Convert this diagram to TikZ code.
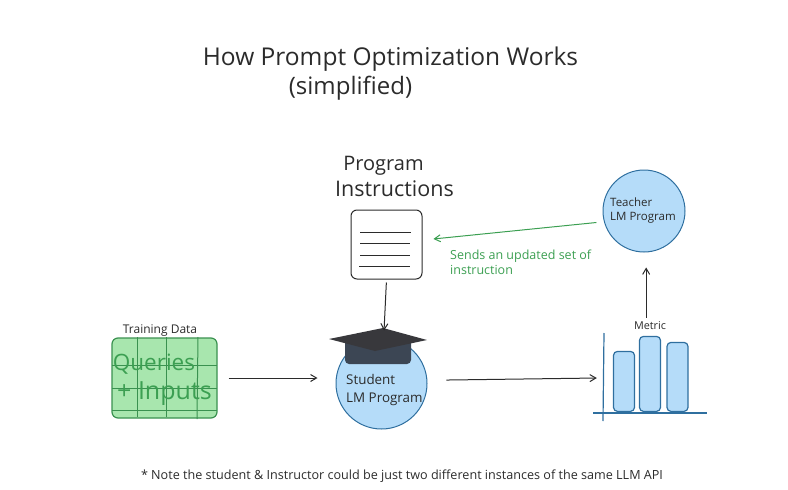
\documentclass[tikz,border=0pt]{standalone}
\usepackage{fontspec}
\usepackage{xcolor}
\usetikzlibrary{positioning,shapes,arrows.meta}
\setmainfont{Open Sans}
\definecolor{inkblack}{HTML}{2B2B2B}
\definecolor{inkgreen}{HTML}{3C9F52}
\definecolor{tablefill}{HTML}{A8E6AE}
\definecolor{gridgreen}{HTML}{3A9150}
\definecolor{skyfill}{HTML}{B5DCF9}
\definecolor{skyline}{HTML}{2F6F9F}
\definecolor{hatdark}{HTML}{38383C}
\definecolor{hatbase}{HTML}{3C4654}
\begin{document}
\begin{tikzpicture}[x=1pt,y=1pt]
\tikzstyle{every node}+=[inner sep=0pt]
\tikzstyle{arrowline}=[inkblack,line width=1pt,-{Straight Barb[length=6pt,width=7pt]}]
\tikzstyle{greenline}=[inkgreen,line width=1pt,-{Straight Barb[length=6pt,width=7pt]}]
\tikzstyle{hand}=[text=inkblack,align=left]
\tikzstyle{roundcircle}=[circle,draw=skyline,fill=skyfill,line width=1pt]
\tikzstyle{barbox}=[rectangle,rounded corners=4pt,draw=skyline,fill=skyfill,line width=1.2pt,anchor=south,minimum width=21pt]
\useasboundingbox (0,0) rectangle (788,-490);
\node [hand,font=\fontsize{24.5}{28}\selectfont] (title) at (390.5,-59) {How Prompt Optimization Works};
\node [hand,font=\fontsize{24}{28}\selectfont] (subtitle) at (350.5,-88) {(simplified)};
\node [hand,font=\fontsize{20}{23}\selectfont] (program) at (383.5,-166) {Program};
\node [hand,font=\fontsize{21.5}{24}\selectfont] (instructions) at (394.5,-189) {Instructions};
\node [rectangle,rounded corners=6pt,draw=inkblack,line width=1pt,minimum width=71pt,minimum height=69pt] (doc) at (386.5,-244.5) {};
\draw [inkblack,line width=1pt] (360,-232) -- (411,-232);
\draw [inkblack,line width=1pt] (360,-243) -- (410,-243);
\draw [inkblack,line width=1pt] (360,-255) -- (410,-255);
\draw [inkblack,line width=1pt] (359,-266) -- (410,-266);
\node [roundcircle,minimum size=82pt] (teacher) at (644,-211) {};
\node [hand,anchor=west,font=\fontsize{11.5}{14}\selectfont] (teachertext) at (610,-210.5) {Teacher\\LM Program};
\node [hand,text=inkgreen,anchor=north west,font=\fontsize{12.5}{14.5}\selectfont] (sends) at (450,-250) {Sends an updated set of\\instruction};
\node [hand,font=\fontsize{10.8}{12}\selectfont] (metric) at (650,-326) {Metric};
\node [minimum width=109pt,minimum height=86pt] (chart) at (652.5,-378) {};
\node [barbox,minimum height=60pt] (barone) at (624,-412) {};
\node [barbox,minimum height=75pt] (bartwo) at (650,-412) {};
\node [barbox,minimum height=69pt] (barthree) at (677.5,-412) {};
\draw [skyline,line width=1.2pt] (604,-333) -- (603,-421);
\draw [skyline,line width=1.2pt] (593,-413) -- (707,-413);
\node [rectangle,rounded corners=6pt,draw=gridgreen,fill=tablefill,line width=1.2pt,minimum width=105pt,minimum height=80pt] (table) at (164.5,-378) {};
\draw [gridgreen,line width=1pt] (137,-337) -- (137,-417);
\draw [gridgreen,line width=1pt] (166,-337) -- (166,-417);
\draw [gridgreen,line width=1pt] (198,-337) -- (197,-419);
\draw [gridgreen,line width=1pt] (112,-365) -- (217,-365);
\draw [gridgreen,line width=1pt] (112,-388) -- (217,-388);
\draw [gridgreen,line width=1pt] (112,-410) -- (217,-410);
\node [hand,font=\fontsize{12}{14}\selectfont] (training) at (160,-331) {Training Data};
\node [hand,text=inkgreen,font=\fontsize{22.5}{25}\selectfont] (queries) at (154,-364) {Queries};
\node [hand,text=inkgreen,font=\fontsize{25}{28}\selectfont] (inputs) at (164.5,-394) {+ Inputs};
\node [roundcircle,minimum size=91pt] (student) at (381.5,-383.5) {};
\node [rectangle,rounded corners=4pt,fill=hatbase,minimum width=66pt,minimum height=25pt] (capbase) at (378,-351.5) {};
\fill [hatdark] (383,-328) -- (427,-340) -- (375,-351) -- (329,-339) -- cycle;
\node [hand,anchor=west,font=\fontsize{13.4}{18}\selectfont] (studenttext) at (346,-390) {Student\\LM Program};
\node [hand,font=\fontsize{12.6}{15}\selectfont] (note) at (402,-476) {* Note the student \& Instructor could be just two different instances of the same LLM API};
\draw [arrowline,shorten <=11pt,shorten >=18pt] (table.east) -- (table.east -| student.west);
\draw [arrowline,shorten <=19pt,shorten >=1pt] (student.4) -- (chart.west);
\draw [arrowline,shorten <=4pt,shorten >=15pt] (teacher.273 |- metric.north) -- (teacher.273);
\draw [arrowline,shorten <=3pt,shorten >=7pt] (doc.south) -- (student);
\draw [greenline,shorten <=7.5pt,shorten >=11pt] (teacher.195) -- (doc.7);
\end{tikzpicture}
\end{document}
